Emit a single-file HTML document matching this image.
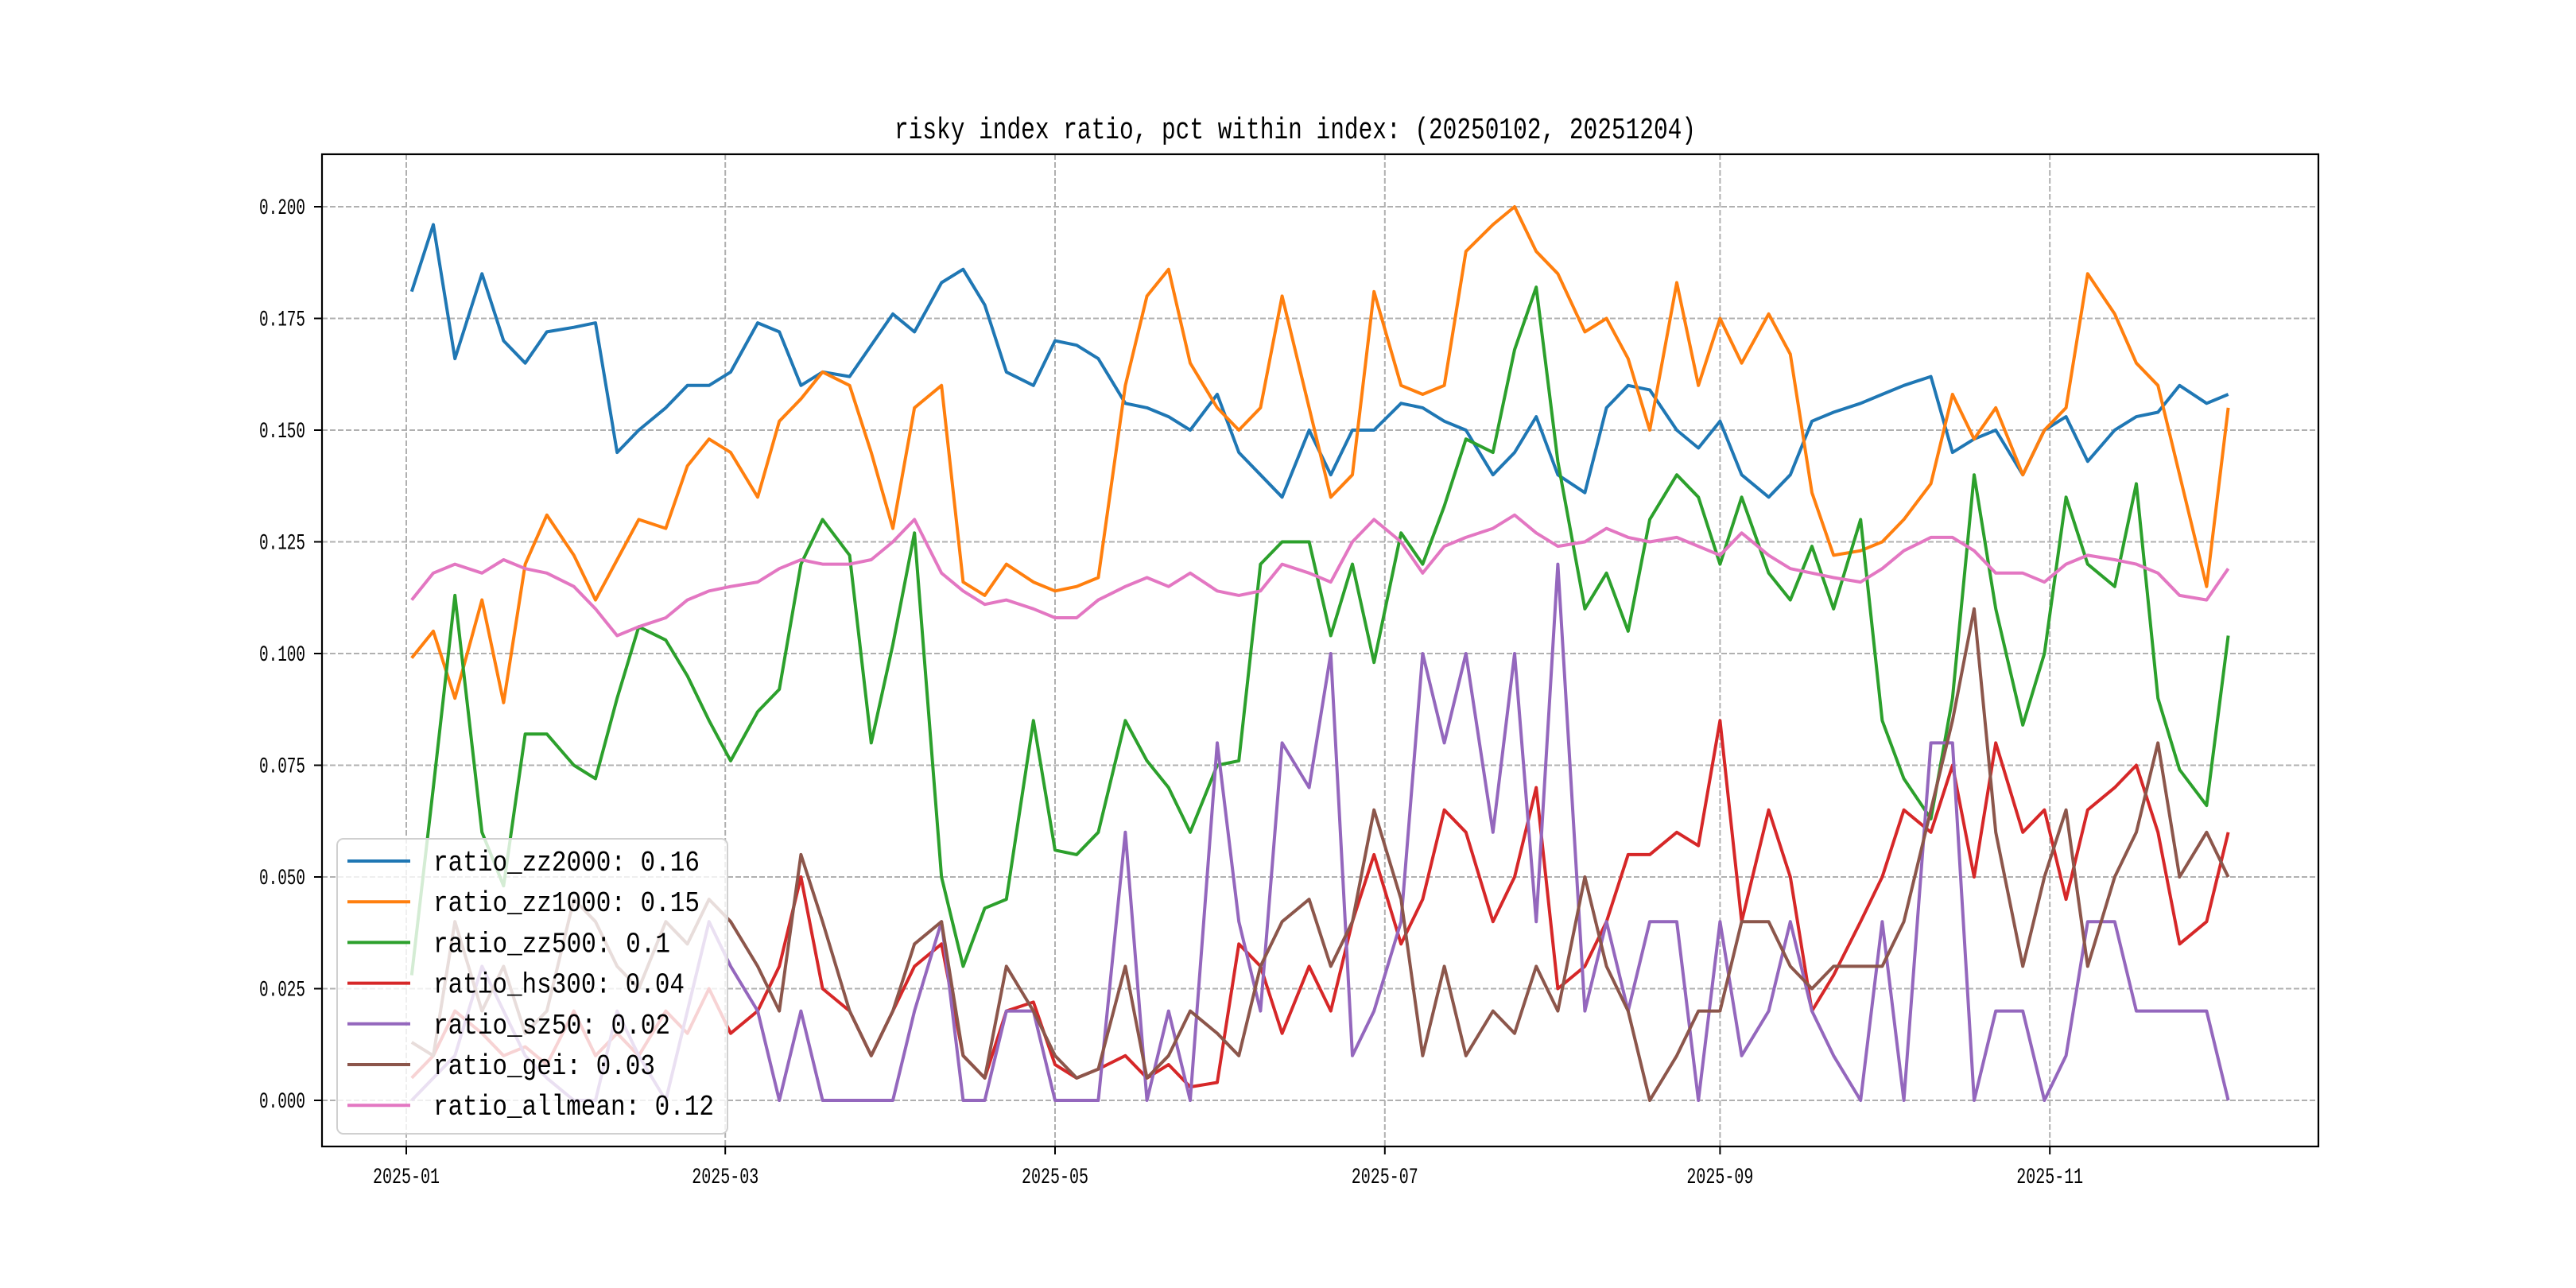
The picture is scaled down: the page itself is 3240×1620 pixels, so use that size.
<!DOCTYPE html>
<html><head><meta charset="utf-8">
<style>
html,body{margin:0;padding:0;background:#fff;}
svg{display:block;}
text{font-family:"Liberation Mono","Noto Sans CJK SC",monospace;fill:#000;}
</style></head>
<body>
<svg id="chart" width="3240" height="1620" viewBox="0 0 3240 1620" xmlns="http://www.w3.org/2000/svg">
<rect x="0" y="0" width="3240" height="1620" fill="#fff"/>
<text x="1629" y="174" text-anchor="middle" font-size="38" textLength="1008" lengthAdjust="spacingAndGlyphs">risky index ratio, pct within index: (20250102, 20251204)</text>
<g id="grid"></g>
<g id="series"></g>
<rect x="405" y="194" width="2511" height="1248" fill="none" stroke="#000" stroke-width="2.2"/>
<g id="axes"></g>
<g id="legend"></g>
</svg>
<script>
const days = [1,5,9,14,18,22,26,31,35,39,43,48,52,56,60,65,69,73,77,82,86,90,94,99,103,107,111,116,120,124,128,133,137,141,145,150,154,158,162,167,171,175,179,184,188,192,196,201,205,209,213,218,222,226,230,235,239,243,247,252,256,260,264,269,273,277,282,286,290,294,299,303,307,311,316,320,324,328,333,337];
const zz2000 = [.181,.196,.166,.185,.170,.165,.172,.173,.174,.145,.150,.155,.160,.160,.163,.174,.172,.160,.163,.162,.169,.176,.172,.183,.186,.178,.163,.160,.170,.169,.166,.156,.155,.153,.150,.158,.145,.140,.135,.150,.140,.150,.150,.156,.155,.152,.150,.140,.145,.153,.140,.136,.155,.160,.159,.150,.146,.152,.140,.135,.140,.152,.154,.156,.158,.160,.162,.145,.148,.150,.140,.150,.153,.143,.150,.153,.154,.160,.156,.158];
const zz1000 = [.099,.105,.090,.112,.089,.120,.131,.122,.112,.121,.130,.128,.142,.148,.145,.135,.152,.157,.163,.160,.145,.128,.155,.160,.116,.113,.120,.116,.114,.115,.117,.160,.180,.186,.165,.155,.150,.155,.180,.155,.135,.140,.181,.160,.158,.160,.190,.196,.200,.190,.185,.172,.175,.166,.150,.183,.160,.175,.165,.176,.167,.136,.122,.123,.125,.130,.138,.158,.148,.155,.140,.150,.155,.185,.176,.165,.160,.140,.115,.155];
const zz500 = [.028,.070,.113,.060,.048,.082,.082,.075,.072,.090,.106,.103,.095,.085,.076,.087,.092,.120,.130,.122,.080,.102,.127,.050,.030,.043,.045,.085,.056,.055,.060,.085,.076,.070,.060,.075,.076,.120,.125,.125,.104,.120,.098,.127,.120,.133,.148,.145,.168,.182,.143,.110,.118,.105,.130,.140,.135,.120,.135,.118,.112,.124,.110,.130,.085,.072,.063,.090,.140,.110,.084,.100,.135,.120,.115,.138,.090,.074,.066,.104];
const hs300 = [.005,.010,.020,.015,.010,.012,.008,.020,.010,.015,.010,.020,.015,.025,.015,.020,.030,.050,.025,.020,.010,.020,.030,.035,.010,.005,.020,.022,.008,.005,.007,.010,.005,.008,.003,.004,.035,.030,.015,.030,.020,.040,.055,.035,.045,.065,.060,.040,.050,.070,.025,.030,.040,.055,.055,.060,.057,.085,.040,.065,.050,.020,.028,.040,.050,.065,.060,.075,.050,.080,.060,.065,.045,.065,.070,.075,.060,.035,.040,.060];
const sz50 = [0,.005,.010,.030,.020,.010,.005,0,0,.020,.010,0,.020,.040,.030,.020,0,.020,0,0,0,0,.020,.040,0,0,.020,.020,0,0,0,.060,0,.020,0,.080,.040,.020,.080,.070,.100,.010,.020,.040,.100,.080,.100,.060,.100,.040,.120,.020,.040,.020,.040,.040,0,.040,.010,.020,.040,.020,.010,0,.040,0,.080,.080,0,.020,.020,0,.010,.040,.040,.020,.020,.020,.020,0];
const gei = [.013,.010,.040,.020,.030,.015,.020,.045,.040,.030,.025,.040,.035,.045,.040,.030,.020,.055,.040,.020,.010,.020,.035,.040,.010,.005,.030,.020,.010,.005,.007,.030,.005,.010,.020,.015,.010,.030,.040,.045,.030,.040,.065,.045,.010,.030,.010,.020,.015,.030,.020,.050,.030,.020,0,.010,.020,.020,.040,.040,.030,.025,.030,.030,.030,.040,.065,.085,.110,.060,.030,.050,.065,.030,.050,.060,.080,.050,.060,.050];
const allmean = [.112,.118,.120,.118,.121,.119,.118,.115,.110,.104,.106,.108,.112,.114,.115,.116,.119,.121,.120,.120,.121,.125,.130,.118,.114,.111,.112,.110,.108,.108,.112,.115,.117,.115,.118,.114,.113,.114,.120,.118,.116,.125,.130,.125,.118,.124,.126,.128,.131,.127,.124,.125,.128,.126,.125,.126,.124,.122,.127,.122,.119,.118,.117,.116,.119,.123,.126,.126,.123,.118,.118,.116,.120,.122,.121,.120,.118,.113,.112,.119];
const yTicks = [0, 0.025, 0.05, 0.075, 0.1, 0.125, 0.15, 0.175, 0.2];
const yTickLabels = ["0.000","0.025","0.050","0.075","0.100","0.125","0.150","0.175","0.200"];
const xTickDays = [0, 59, 120, 181, 243, 304];
const xTickLabels = ["2025-01","2025-03","2025-05","2025-07","2025-09","2025-11"];
const seriesNames = ["ratio_zz2000: 0.16","ratio_zz1000: 0.15","ratio_zz500: 0.1","ratio_hs300: 0.04","ratio_sz50: 0.02","ratio_gei: 0.03","ratio_allmean: 0.12"];

const NS = "http://www.w3.org/2000/svg";
const colors = ["#1f77b4","#ff7f0e","#2ca02c","#d62728","#9467bd","#8c564b","#e377c2"];
const seriesKeys = ["zz2000","zz1000","zz500","hs300","sz50","gei","allmean"];
const seriesData = [zz2000, zz1000, zz500, hs300, sz50, gei, allmean];
function xScale(d){ return 511 + d * 6.8; }
function yScale(v){ return 1384 - v * 5620; }
function mk(tag, attrs, parent){ const e=document.createElementNS(NS,tag); for(const k in attrs) e.setAttribute(k, attrs[k]); parent.appendChild(e); return e; }

const grid = document.getElementById('grid');
const axes = document.getElementById('axes');
yTicks.forEach((t,i)=>{
  const y = yScale(t);
  const gl = mk('line',{x1:405,x2:2916,y1:y,y2:y,stroke:'#b0b0b0','stroke-width':2,'stroke-dasharray':'7,3'},grid);
  
  
  const tk = mk('line',{x1:395,x2:405,y1:y,y2:y,stroke:'#000','stroke-width':2},axes);
  
  
  const tx = mk('text',{x:384,y:y+9,'text-anchor':'end','font-size':28,textLength:58,lengthAdjust:'spacingAndGlyphs'},axes);
  tx.textContent = yTickLabels[i];
  
  
});
xTickDays.forEach((d,i)=>{
  const x = xScale(d);
  const gl = mk('line',{x1:x,x2:x,y1:194,y2:1442,stroke:'#b0b0b0','stroke-width':2,'stroke-dasharray':'7,3'},grid);
  
  
  const tk = mk('line',{x1:x,x2:x,y1:1442,y2:1452,stroke:'#000','stroke-width':2},axes);
  
  
  const tx = mk('text',{x:x,y:1488,'text-anchor':'middle','font-size':28,textLength:84,lengthAdjust:'spacingAndGlyphs'},axes);
  tx.textContent = xTickLabels[i];
  
  
});

const sg = document.getElementById('series');
seriesData.forEach((vals,s)=>{
  const pts = vals.map((v,i)=> xScale(days[i]).toFixed(1)+','+yScale(v).toFixed(1)).join(' ');
  const pl = mk('polyline',{points:pts,fill:'none',stroke:colors[s],'stroke-width':4,'stroke-linejoin':'round'},sg);
  
  
});

const lg = document.getElementById('legend');
const box = mk('rect',{x:424,y:1055,width:491,height:371,rx:8,fill:'#fff','fill-opacity':0.8,stroke:'#d0d0d0','stroke-width':2},lg);


seriesNames.forEach((n,s)=>{
  const y = 1083 + s*51.2;
  const ln = mk('line',{x1:437,x2:516,y1:y,y2:y,stroke:colors[s],'stroke-width':4},lg);
  
  
  const tx = mk('text',{x:545,y:y+12,'font-size':36,textLength:(n.length*18.6).toFixed(0),lengthAdjust:'spacingAndGlyphs'},lg);
  tx.textContent = n;
  
  
});
</script>
</body></html>
